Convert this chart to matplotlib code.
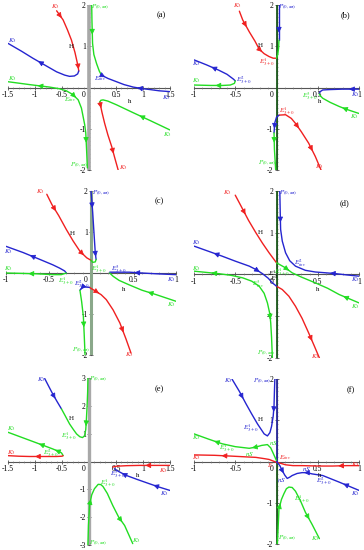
import matplotlib
matplotlib.use("Agg")
import matplotlib.pyplot as plt
from matplotlib.ticker import MultipleLocator, FixedLocator, FixedFormatter

plt.rcParams['font.family'] = ['Liberation Serif', 'DejaVu Serif']
plt.rcParams['mathtext.fontset'] = 'stix'

RED = '#f02020'
BLUE = '#2525d0'
GREEN = '#22dd22'

# ---------------- panel (a) ----------------
a_red1 = [(-0.60,1.86),(-0.54,1.75),(-0.48,1.64),(-0.40,1.40),(-0.325,1.15),(-0.26,0.85),(-0.2,0.5),(-0.19,0.4)]
a_red2 = [(0.20,-0.35),(0.24,-0.6),(0.29,-0.87),(0.35,-1.15),(0.42,-1.43),(0.48,-1.72),(0.54,-2.0)]
a_blue1 = [(-1.5,1.07),(-1.25,0.88),(-1.04,0.71),(-0.8,0.53),(-0.6,0.38),(-0.45,0.30),(-0.36,0.27),(-0.27,0.28),(-0.21,0.33),(-0.19,0.4)]
a_green1 = [(0.05,2.0),(0.055,1.6),(0.066,1.07),(0.09,0.8),(0.14,0.58),(0.19,0.4),(0.23,0.3)]
a_blue2 = [(0.23,0.3),(0.35,0.22),(0.51,0.14),(0.65,0.07),(0.82,0.01),(1.0,-0.03),(1.13,-0.05),(1.3,-0.08),(1.5,-0.1)]
a_green2 = [(-1.5,0.14),(-1.1,0.07),(-0.73,0.01),(-0.55,-0.03),(-0.42,-0.08),(-0.3,-0.17),(-0.2,-0.3),(-0.14,-0.5),(-0.11,-0.7),(-0.08,-0.9),(-0.06,-1.1),(-0.045,-1.5),(-0.03,-1.95)]
a_green3 = [(1.5,-1.03),(1.13,-0.8),(0.8,-0.6),(0.51,-0.42),(0.35,-0.33),(0.26,-0.3),(0.22,-0.31),(0.20,-0.35)]

# ---------------- panel (b) ----------------
b_red1 = [(-0.45,1.85),(-0.41,1.64),(-0.33,1.35),(-0.26,1.12),(-0.21,0.93),(-0.15,0.82),(-0.09,0.75),(-0.04,0.71),(0.0,0.71)]
b_blue1 = [(0.03,2.0),(0.03,1.6),(0.03,1.15)]
b_green1 = [(0.03,1.15),(0.025,0.95),(0.015,0.8),(0.0,0.71)]
b_blue2 = [(-1.0,0.67),(-0.85,0.55),(-0.7,0.42),(-0.6,0.32),(-0.52,0.2),(-0.5,0.16)]
b_green2 = [(-1.0,0.06),(-0.8,0.05),(-0.65,0.05),(-0.56,0.06),(-0.51,0.1),(-0.5,0.16)]
b_blue3 = [(1.0,-0.04),(0.8,-0.04),(0.65,-0.05),(0.56,-0.06),(0.53,-0.1),(0.52,-0.14)]
b_green3 = [(1.0,-0.63),(0.85,-0.53),(0.76,-0.46),(0.65,-0.36),(0.56,-0.26),(0.53,-0.2),(0.52,-0.16)]
b_red2 = [(0.03,-0.67),(0.11,-0.66),(0.18,-0.75),(0.23,-0.87),(0.3,-1.07),(0.39,-1.35),(0.47,-1.67),(0.54,-2.0)]
b_blue4 = [(0.03,-0.67),(0.0,-0.72),(-0.02,-0.85),(-0.03,-1.1)]
b_green4 = [(-0.03,-1.1),(-0.025,-1.5),(-0.01,-2.0)]

# ---------------- panel (c) ----------------
c_red1 = [(-0.52,1.92),(-0.46,1.67),(-0.38,1.4),(-0.29,1.06),(-0.21,0.78),(-0.13,0.53),(-0.05,0.37),(0.0,0.31)]
c_blue1 = [(0.0,2.0),(0.01,1.75),(0.02,1.47),(0.04,0.82),(0.05,0.5),(0.06,0.33)]
c_green1 = [(0.0,0.31),(0.02,0.26),(0.05,0.27),(0.06,0.33)]
c_blue2 = [(-1.0,0.65),(-0.8,0.5),(-0.6,0.33),(-0.45,0.2),(-0.37,0.12),(-0.31,0.05),(-0.29,0.0)]
c_green2 = [(-1.0,0.0),(-0.8,-0.01),(-0.64,-0.02),(-0.45,-0.04),(-0.35,-0.04),(-0.29,0.0)]
c_blue3 = [(1.0,-0.04),(0.77,-0.02),(0.6,0.0),(0.45,0.02),(0.3,0.02),(0.22,0.02)]
c_green3 = [(1.0,-0.69),(0.77,-0.53),(0.6,-0.42),(0.45,-0.29),(0.33,-0.18),(0.26,-0.08),(0.22,0.0)]
c_red2 = [(-0.02,-0.35),(0.06,-0.45),(0.12,-0.53),(0.18,-0.65),(0.26,-0.9),(0.34,-1.22),(0.41,-1.6),(0.47,-1.95)]
c_blue4 = [(-0.02,-0.35),(-0.08,-0.34),(-0.11,-0.37),(-0.13,-0.42)]
c_green4 = [(-0.13,-0.42),(-0.11,-0.7),(-0.09,-1.06),(-0.08,-1.5),(-0.07,-2.0)]

# ---------------- panel (d) ----------------
d_red1 = [(-0.50,1.9),(-0.43,1.64),(-0.34,1.3),(-0.25,1.0),(-0.17,0.75),(-0.09,0.52),(-0.03,0.36),(0.0,0.28)]
d_red2 = [(0.0,-0.28),(0.07,-0.36),(0.15,-0.52),(0.23,-0.76),(0.31,-1.05),(0.39,-1.4),(0.46,-1.72),(0.52,-2.0)]
d_blue1 = [(0.04,2.0),(0.045,1.5),(0.05,1.08),(0.07,0.8),(0.11,0.52),(0.16,0.33),(0.23,0.2),(0.35,0.1),(0.47,0.06),(0.6,0.04),(0.72,0.02),(0.85,-0.01),(1.0,-0.04)]
d_blue2 = [(-1.0,0.68),(-0.83,0.56),(-0.66,0.44),(-0.5,0.32),(-0.33,0.2),(-0.25,0.12),(-0.17,0.02),(-0.1,-0.09),(-0.05,-0.2),(0.0,-0.28)]
d_green1 = [(-1.0,0.08),(-0.85,0.05),(-0.7,0.02),(-0.55,-0.02),(-0.41,-0.08),(-0.3,-0.16),(-0.21,-0.28),(-0.15,-0.45),(-0.11,-0.68),(-0.08,-0.95),(-0.07,-1.16),(-0.06,-1.5),(-0.05,-2.0)]
d_green2 = [(0.0,0.28),(0.1,0.17),(0.19,0.04),(0.3,-0.06),(0.47,-0.2),(0.62,-0.33),(0.76,-0.48),(0.88,-0.58),(1.0,-0.68)]

# ---------------- panel (e) ----------------
e_blue1 = [(-0.82,2.98),(-0.74,2.68),(-0.67,2.42),(-0.59,2.15),(-0.51,1.89)]
e_green1 = [(-0.51,1.89),(-0.44,1.64),(-0.36,1.35),(-0.29,1.15),(-0.23,0.99),(-0.17,0.89),(-0.12,0.86),(-0.08,0.93),(-0.06,1.15),(-0.05,1.45),(-0.035,2.0),(-0.025,2.5),(-0.02,3.0)]
e_green2 = [(-1.5,1.05),(-1.25,0.87),(-1.0,0.69),(-0.82,0.56),(-0.67,0.45),(-0.57,0.37),(-0.51,0.31),(-0.49,0.25),(-0.48,0.21)]
e_red1 = [(-1.5,0.21),(-1.3,0.19),(-1.1,0.18),(-0.85,0.18),(-0.6,0.18),(-0.5,0.19),(-0.48,0.21)]
e_red2 = [(1.5,-0.14),(1.2,-0.14),(0.94,-0.14),(0.7,-0.15),(0.5,-0.17),(0.44,-0.2)]
e_blue2 = [(1.5,-1.04),(1.3,-0.92),(1.12,-0.8),(0.9,-0.65),(0.69,-0.5),(0.55,-0.36),(0.47,-0.26)]
e_green3 = [(-0.02,-3.0),(-0.01,-2.3),(0.01,-1.58),(0.05,-1.2),(0.1,-0.98),(0.17,-0.82),(0.22,-0.83),(0.26,-0.9),(0.34,-1.15),(0.44,-1.58),(0.55,-2.0),(0.66,-2.3),(0.81,-2.95)]

# ---------------- panel (f) ----------------
f_blue1 = [(-0.54,2.0),(-0.45,1.7),(-0.37,1.4),(-0.3,1.15),(-0.23,0.91),(-0.18,0.76),(-0.15,0.67),(-0.11,0.62),(-0.08,0.7),(-0.06,0.85),(-0.04,1.1),(-0.03,1.35),(-0.025,1.7),(-0.02,2.0)]
f_green1 = [(-1.0,0.67),(-0.82,0.54),(-0.66,0.43),(-0.5,0.36),(-0.33,0.32),(-0.25,0.35),(-0.18,0.39),(-0.11,0.41),(-0.07,0.33),(-0.04,0.2),(0.0,0.02)]
f_red1 = [(-1.0,0.16),(-0.75,0.15),(-0.54,0.13),(-0.35,0.11),(-0.25,0.1),(-0.15,0.07),(-0.09,0.05),(0.0,-0.02),(0.06,-0.05),(0.11,-0.08),(0.2,-0.1),(0.31,-0.1),(0.5,-0.11),(0.68,-0.11),(0.85,-0.1),(1.0,-0.1)]
f_blue2 = [(0.0,0.0),(0.04,-0.1),(0.07,-0.22),(0.1,-0.33),(0.13,-0.41),(0.16,-0.38),(0.19,-0.34),(0.25,-0.29),(0.31,-0.27),(0.37,-0.27),(0.43,-0.3),(0.56,-0.34),(0.66,-0.42),(0.76,-0.5),(0.88,-0.6),(1.0,-0.7)]
f_green2 = [(0.01,-2.0),(0.02,-1.6),(0.03,-1.15),(0.06,-0.92),(0.09,-0.78),(0.12,-0.66),(0.15,-0.62),(0.19,-0.63),(0.23,-0.72),(0.29,-0.95),(0.35,-1.23),(0.43,-1.52),(0.52,-1.87)]

# tick values
x_ticks_15 = [-1.5, -1, -0.5, 0.5, 1, 1.5]
x_ticks_10 = [-1, -0.5, 0.5, 1]
y_ticks_2 = [-2, -1, 1, 2]
y_ticks_3 = [-3, -2, -1, 1, 2, 3]

K3 = r'$K_3$'
P = r'$P_{(0,\infty)}$'
E1 = r'$E^1_{3+0}$'
E2 = r'$E^2_{3+0}$'
E3 = r'$E^3_{3+0}$'
EINV = r'$E_{inv}$'

panels = [
    dict(name='(a)', rect=(8, 5, 162, 165), xlim=(-1.5, 1.5), ylim=(-2, 2), xt=x_ticks_15, yt=y_ticks_2,
         vline=[('#a8a8a8', 2.6, -2, 2)],
         curves=[(a_red1, RED, [(1, 1), (6, 1)]), (a_red2, RED, [(0, 1), (4, 1)]),
                 (a_blue1, BLUE, [(2, -1)]), (a_green1, GREEN, [(1, 1)]),
                 (a_blue2, BLUE, [(0, 1), (4, -1)]), (a_green2, GREEN, [(1, -1), (5, 1), (10, 1)]),
                 (a_green3, GREEN, [(1, 1)])],
         labels=[(-0.62, 1.96, K3, RED), (-1.42, 1.14, K3, BLUE), (-1.42, 0.22, K3, GREEN),
                 (1.44, -0.24, K3, BLUE), (1.45, -1.13, K3, GREEN), (0.63, -1.93, K3, RED),
                 (0.2, 1.95, P, GREEN), (-0.18, -1.88, P, GREEN), (0.21, 0.21, EINV, BLUE),
                 (-0.35, -0.3, EINV, GREEN), (-0.33, 1.0, 'H', 'black'), (0.75, -0.33, 'h', 'black')],
         tag=(1.33, 1.75)),
    dict(name='(b)', rect=(194, 5, 165, 165), xlim=(-1, 1), ylim=(-2, 2), xt=x_ticks_10, yt=y_ticks_2,
         vline=[('#1d5a1d', 1.3, -2, 2)],
         curves=[(b_red1, RED, [(1, 1), (4, 1)]), (b_blue1, BLUE, [(1, 1)]), (b_green1, GREEN, []),
                 (b_blue2, BLUE, [(1, -1)]), (b_green2, GREEN, [(1, -1)]),
                 (b_blue3, BLUE, [(0, 1)]), (b_green3, GREEN, [(1, 1)]),
                 (b_red2, RED, [(3, 1), (5, 1)]), (b_blue4, BLUE, [(2, 1)]), (b_green4, GREEN, [(0, 1)])],
         labels=[(-0.47, 1.98, K3, RED), (-0.97, 0.57, K3, BLUE), (-0.97, 0.16, K3, GREEN),
                 (-0.39, 0.2, E2, BLUE), (0.13, 1.95, P, BLUE), (-0.12, 0.62, E1, RED),
                 (0.41, -0.2, E3, GREEN), (0.96, -0.17, K3, BLUE), (0.95, -0.71, K3, GREEN),
                 (0.13, -0.55, E1, RED), (-0.11, -1.85, P, GREEN), (0.52, -1.91, K3, RED),
                 (-0.2, 1.03, 'H', 'black'), (0.52, -0.34, 'h', 'black')],
         tag=(0.84, 1.76)),
    dict(name='(c)', rect=(6, 191, 170, 164), xlim=(-1, 1), ylim=(-2, 2), xt=x_ticks_10, yt=y_ticks_2,
         vline=[('#8aa88a', 2.2, -2, 2)],
         curves=[(c_red1, RED, [(1, 1), (5, 1)]), (c_blue1, BLUE, [(1, 1), (4, 1)]), (c_green1, GREEN, []),
                 (c_blue2, BLUE, [(1, -1)]), (c_green2, GREEN, [(1, -1)]),
                 (c_blue3, BLUE, [(2, 1)]), (c_green3, GREEN, [(1, 1)]),
                 (c_red2, RED, [(1, 1), (5, 1)]), (c_blue4, BLUE, [(2, 1)]), (c_green4, GREEN, [(2, 1)])],
         labels=[(-0.6, 1.98, K3, RED), (0.12, 1.95, P, BLUE), (-0.22, 0.96, 'H', 'black'),
                 (0.09, 0.12, E1, GREEN), (-0.97, 0.53, K3, BLUE), (-0.97, 0.12, K3, GREEN),
                 (-0.3, -0.18, E1, GREEN), (0.33, 0.1, E3, BLUE), (-0.11, -0.27, E2, BLUE),
                 (0.94, -0.16, K3, BLUE), (0.94, -0.78, K3, GREEN), (0.38, -0.41, 'h', 'black'),
                 (-0.12, -1.88, P, GREEN), (0.45, -2.0, K3, RED)],
         tag=(0.8, 1.76)),
    dict(name='(d)', rect=(194, 191, 165, 167), xlim=(-1, 1), ylim=(-2, 2), xt=x_ticks_10, yt=y_ticks_2,
         vline=[('#1d5a1d', 1.3, -2, 2)],
         curves=[(d_red1, RED, [(1, 1)]), (d_red2, RED, [(5, 1)]), (d_blue1, BLUE, [(1, 1), (9, -1)]),
                 (d_blue2, BLUE, [(1, -1), (5, 1)]), (d_green1, GREEN, [(1, -1), (9, 1)]),
                 (d_green2, GREEN, [(1, 1), (6, -1)])],
         labels=[(-0.6, 1.96, K3, RED), (0.14, 1.95, P, BLUE), (-0.19, 1.0, 'H', 'black'),
                 (-0.97, 0.76, K3, BLUE), (0.28, 0.28, r'$E^2_{inv}$', BLUE), (-0.97, 0.14, K3, GREEN),
                 (0.07, 0.08, E1, GREEN), (-0.22, -0.24, r'$E^3_{inv}$', GREEN),
                 (-0.05, 0.04, r'$E^1$', 'black'), (-0.02, -0.1, r'$E^2$', 'black'),
                 (0.5, -0.36, 'h', 'black'), (0.96, -0.12, K3, BLUE), (0.96, -0.76, K3, GREEN),
                 (-0.12, -1.88, P, GREEN), (0.47, -1.96, K3, RED)],
         tag=(0.82, 1.72)),
    dict(name='(e)', rect=(8, 378, 162, 167), xlim=(-1.5, 1.5), ylim=(-3, 3), xt=x_ticks_15, yt=y_ticks_3,
         vline=[('#a8a8a8', 2.4, -3, 3)],
         curves=[(e_blue1, BLUE, [(2, 1)]), (e_green1, GREEN, [(8, -1)]), (e_green2, GREEN, [(2, -1), (4, -1)]),
                 (e_red1, RED, [(2, -1)]), (e_red2, RED, [(1, 1)]), (e_blue2, BLUE, [(1, 1), (4, 1)]),
                 (e_green3, GREEN, [(2, 1), (10, 1)])],
         labels=[(-0.88, 2.94, K3, BLUE), (0.17, 2.94, P, GREEN), (-0.33, 1.53, 'H', 'black'),
                 (-0.37, 0.93, E1, GREEN), (-1.44, 1.17, K3, GREEN), (-0.7, 0.33, E2, GREEN),
                 (-1.44, 0.31, K3, RED), (0.54, -0.44, E3, BLUE), (0.91, -0.5, 'h', 'black'),
                 (1.37, -0.32, K3, RED), (1.4, -1.16, K3, BLUE), (0.35, -0.74, E1, GREEN),
                 (0.17, -2.95, P, GREEN), (0.88, -2.85, K3, GREEN)],
         tag=(1.31, 2.6)),
    dict(name='(f)', rect=(194, 379, 165, 165), xlim=(-1, 1), ylim=(-2, 2), xt=x_ticks_10, yt=y_ticks_2,
         vline=[('#2a2a9a', 1.3, 0, 2), ('#1d5a1d', 1.3, -2, 0)],
         curves=[(f_blue1, BLUE, [(1, 1), (10, -1)]), (f_green1, GREEN, [(1, -1), (4, -1)]),
                 (f_red1, RED, [(1, -1), (13, -1)]), (f_blue2, BLUE, [(2, 1), (8, -1), (13, -1)]),
                 (f_green2, GREEN, [(2, 1), (10, 1)])],
         labels=[(-0.58, 1.96, K3, BLUE), (-0.17, 1.94, P, BLUE), (-0.19, 1.03, 'H', 'black'),
                 (-0.31, 0.83, E1, BLUE), (-0.97, 0.59, K3, GREEN), (-0.6, 0.35, E1, GREEN),
                 (-0.33, 0.19, r'$nS$', GREEN), (-0.04, 0.45, r'$nS$', GREEN), (-0.97, 0.1, K3, RED),
                 (0.1, 0.1, EINV, RED), (-0.07, -0.08, r'$E$', RED), (0.06, -0.46, r'$nS$', BLUE),
                 (0.37, -0.19, r'$nS$', BLUE), (0.52, -0.34, 'h', 'black'), (0.96, -0.07, K3, RED),
                 (0.57, -0.46, E2, BLUE), (0.96, -0.78, K3, BLUE), (0.31, -0.9, E1, GREEN),
                 (0.13, -1.87, P, GREEN), (0.47, -1.87, K3, GREEN)],
         tag=(0.9, 1.72)),
]

W, Hh = 364, 550
fig = plt.figure(figsize=(W / 100, Hh / 100), dpi=100)
fig.patch.set_facecolor('white')


def draw_curve(ax, pts, color, arrows):
    hs = [p[0] for p in pts]
    vs = [p[1] for p in pts]
    ax.plot(hs, vs, color=color, lw=1.0, solid_capstyle='round', solid_joinstyle='round', zorder=3)
    for seg, d in arrows:
        p0, p1 = pts[seg], pts[seg + 1]
        if d < 0:
            p0, p1 = p1, p0
        xy = (p0[0] + 0.6 * (p1[0] - p0[0]), p0[1] + 0.6 * (p1[1] - p0[1]))
        xt = (p0[0] + 0.4 * (p1[0] - p0[0]), p0[1] + 0.4 * (p1[1] - p0[1]))
        ax.annotate('', xy=xy, xytext=xt,
                    arrowprops=dict(arrowstyle='-|>,head_length=0.7,head_width=0.35', color=color,
                                    lw=0.6, shrinkA=0, shrinkB=0, mutation_scale=4.5), zorder=4)


for p in panels:
    l, t, w, h = p['rect']
    ax = fig.add_axes([l / W, 1 - (t + h) / Hh, w / W, h / Hh])
    ax.set_xlim(*p['xlim'])
    ax.set_ylim(*p['ylim'])
    ax.patch.set_alpha(0)
    for s in ['top', 'right']:
        ax.spines[s].set_visible(False)
    ax.spines['left'].set_position(('data', 0))
    ax.spines['bottom'].set_position(('data', 0))
    for s in ['left', 'bottom']:
        ax.spines[s].set_color('#555555')
        ax.spines[s].set_linewidth(0.8)
    ax.xaxis.set_major_locator(FixedLocator(p['xt']))
    ax.xaxis.set_major_formatter(FixedFormatter([('%g' % v) for v in p['xt']]))
    ax.yaxis.set_major_locator(FixedLocator(p['yt']))
    ax.yaxis.set_major_formatter(FixedFormatter([('%g' % v) for v in p['yt']]))
    ax.xaxis.set_minor_locator(MultipleLocator(0.1))
    ax.yaxis.set_minor_locator(MultipleLocator(0.1 if p['ylim'][1] <= 2 else 0.2))
    ax.tick_params(which='major', direction='inout', length=2.5, width=0.6, color='#555555',
                   labelsize=5.5, pad=1)
    ax.tick_params(which='minor', direction='inout', length=1.2, width=0.4, color='#777777')
    ax.text(-0.02 * (p['xlim'][1] - p['xlim'][0]), -0.02 * (p['ylim'][1] - p['ylim'][0]), '0',
            fontsize=5.5, ha='right', va='top')
    for col, lw, y0, y1 in p['vline']:
        ax.plot([0, 0], [y0, y1], color=col, lw=lw, zorder=2, solid_capstyle='butt')
    for pts, col, arr in p['curves']:
        draw_curve(ax, pts, col, arr)
    for x, y, s, col in p['labels']:
        ax.text(x, y, s, color=col, fontsize=5, ha='center', va='center', zorder=5)
    ax.text(p['tag'][0], p['tag'][1], p['name'], fontsize=6, ha='center', va='center')
    for sp in ax.spines.values():
        sp.set_zorder(1)

fig.savefig('out.png', dpi=100, facecolor='white')
